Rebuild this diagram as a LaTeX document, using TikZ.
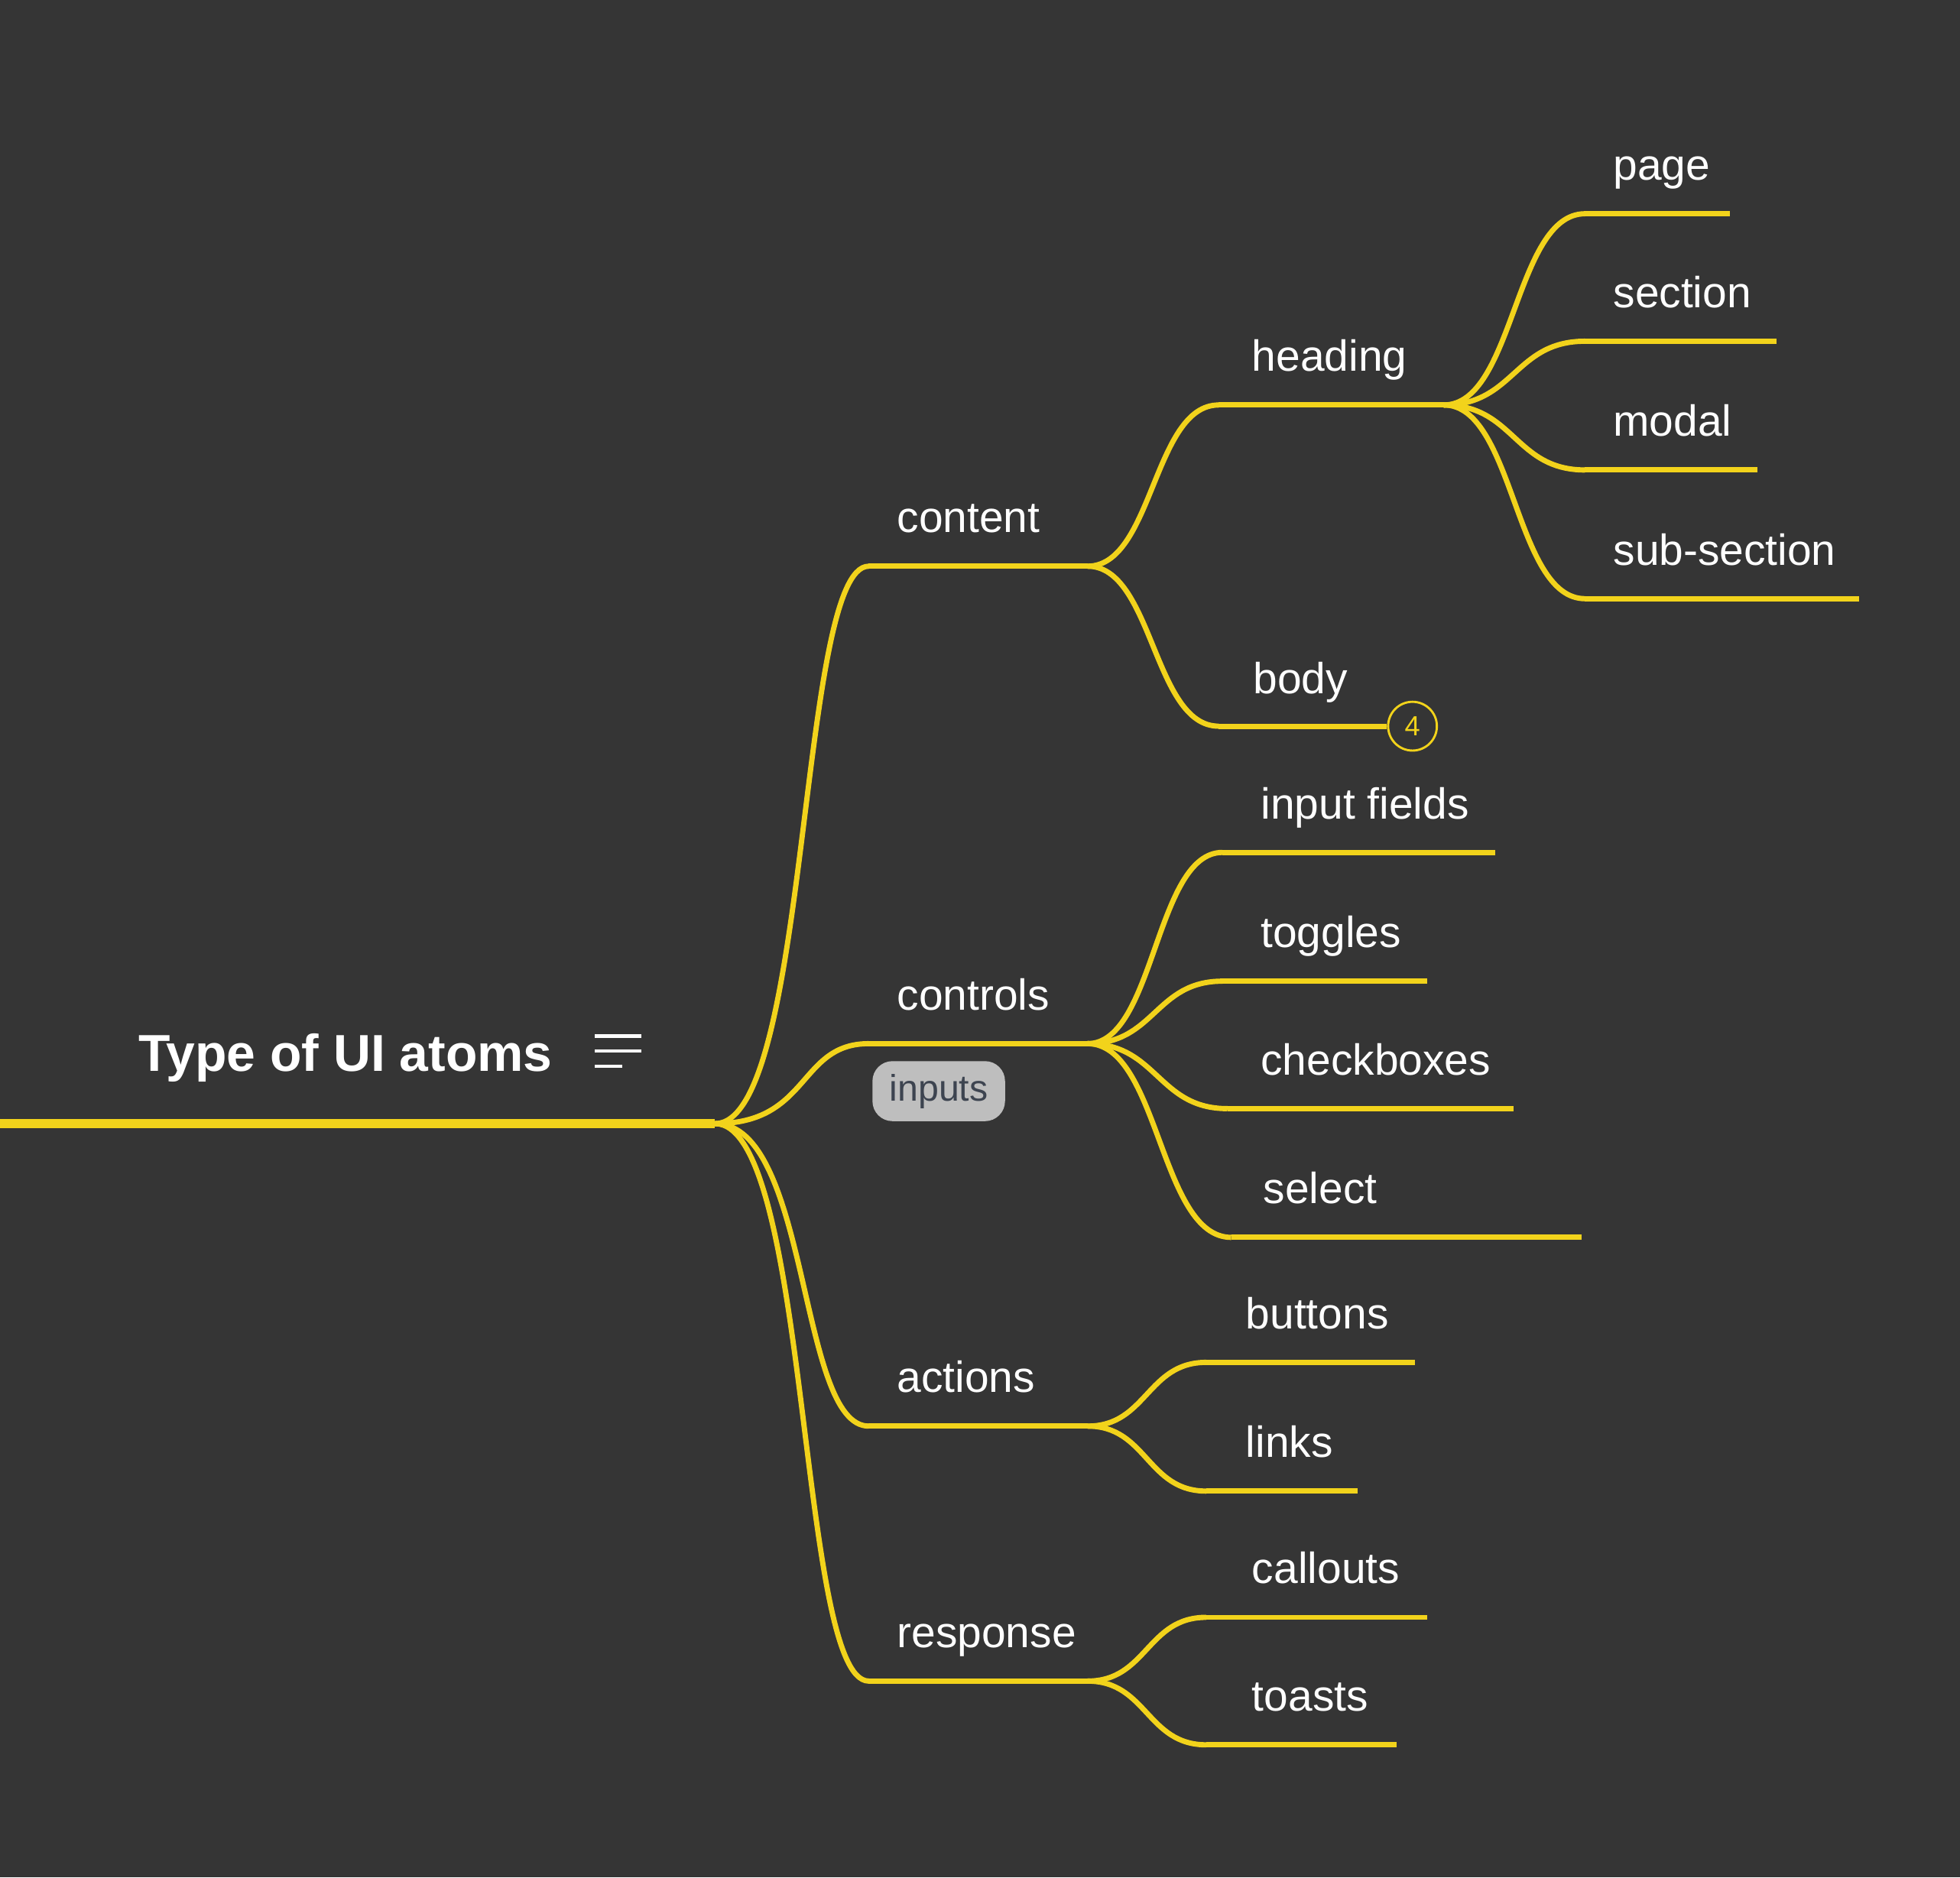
\documentclass[tikz,border=0pt]{standalone}
\usepackage{fontspec}
\setmainfont{Liberation Sans}
\usetikzlibrary{calc}
\definecolor{bg}{HTML}{353535}
\definecolor{ylw}{HTML}{F2D31B}
\definecolor{badgefill}{HTML}{BEBEBE}
\definecolor{badgetxt}{HTML}{3D4450}
\tikzset{
  conn/.style={draw=ylw, line width=1.2pt},
  lbl/.style={anchor=base west, inner sep=0pt, text=white, font=\fontsize{9.9pt}{12pt}\selectfont},
  iconline/.style={draw=white, line width=0.75pt},
}
% curve from #1 to #2, horizontal tangents, control fractions #3, #4 of dx
\newcommand\mmcurve[4]{%
  \draw[conn] let \p1=(#1), \p2=(#2) in
    (\p1) .. controls ({\x1+#3*(\x2-\x1)},\y1) and ({\x1+#4*(\x2-\x1)},\y2) .. (\p2);}
\begin{document}
\begin{tikzpicture}[x=0.01cm, y=-0.01cm]
\fill[bg] (0,0) rectangle (1568,1502);
\useasboundingbox (0,0) rectangle (1568,1502);

% root
\coordinate (rootL) at (0,899);
\coordinate (root) at (572,899);
\draw[conn, line width=2pt] (rootL) -- (root);
\node[anchor=base west, inner sep=0pt, text=white, font=\bfseries\fontsize{11.8pt}{14pt}\selectfont] (title) at (110,857) {Type of UI atoms};
\draw[iconline] (476,829) -- (513,829);
\draw[iconline] (476,841) -- (513,841);
\draw[iconline] (476,853) -- (498,853);

% main branches
\foreach \nm/\yy in {content/453, controls/835, actions/1141, response/1345}{
  \coordinate (\nm L) at (695,\yy);
  \coordinate (\nm R) at (870,\yy);
}
\mmcurve{root}{contentL}{0.62}{0.54}
\mmcurve{root}{controlsL}{0.62}{0.54}
\mmcurve{root}{actionsL}{0.62}{0.54}
\mmcurve{root}{responseL}{0.62}{0.54}
\draw[conn] (contentL) -- (contentR);
\draw[conn] (controlsL) -- (controlsR);
\draw[conn] (actionsL) -- (actionsR);
\draw[conn] (responseL) -- (responseR);
\node[lbl] (tcontent) at (717,426) {content};
\node[lbl] (tcontrols) at (717,808) {controls};
\node[lbl] (tactions) at (717,1114) {actions};
\node[lbl] (tresponse) at (717,1318) {response};

% inputs badge
\node[fill=badgefill, rounded corners=0.16cm, minimum width=1.06cm, minimum height=0.48cm, inner sep=0pt,
  text=badgetxt, font=\fontsize{8.4pt}{10pt}\selectfont] (badge) at (751,873) {inputs};

% content children
\coordinate (headingL) at (975,324); \coordinate (headingR) at (1155,324);
\coordinate (bodyL) at (975,581);
\mmcurve{contentR}{headingL}{0.5}{0.5}
\mmcurve{contentR}{bodyL}{0.5}{0.5}
\draw[conn] (headingL) -- (headingR);
\node[circle, draw=ylw, line width=0.5pt, minimum size=0.39cm, inner sep=0pt, text=ylw,
  font=\fontsize{6.3pt}{7pt}\selectfont] (count) at (1130,581) {4};
\draw[conn] (bodyL) -- (count.west);
\node[lbl] (theading) at (1001,297) {heading};
\node[lbl] (tbody) at (1002,555) {body};

% generic leaves: name / parent fork / start x / y / end x / label x / text
\foreach \nm/\pr/\xs/\yy/\xe/\lx/\txt in {
  page/headingR/1268/171/1384/1290/page,
  section/headingR/1268/273/1421/1290/section,
  modal/headingR/1268/376/1406/1290/modal,
  subsec/headingR/1268/479/1487/1290/sub-section,
  input/controlsR/978/682/1196/1008/input fields,
  toggles/controlsR/978/785/1142/1008/toggles,
  check/controlsR/982/887/1211/1008/checkboxes,
  select/controlsR/985/990/1265/1010/select,
  buttons/actionsR/965/1090/1132/996/buttons,
  links/actionsR/965/1193/1086/996/links,
  callouts/responseR/965/1294/1142/1001/callouts,
  toasts/responseR/965/1396/1117/1001/toasts}{
  \coordinate (\nm L) at (\xs,\yy);
  \coordinate (\nm R) at (\xe,\yy);
  \mmcurve{\pr}{\nm L}{0.5}{0.5}
  \draw[conn] (\nm L) -- (\nm R);
  \node[lbl] (t\nm) at (\lx,\yy-27) {\txt};
}
\end{tikzpicture}
\end{document}
